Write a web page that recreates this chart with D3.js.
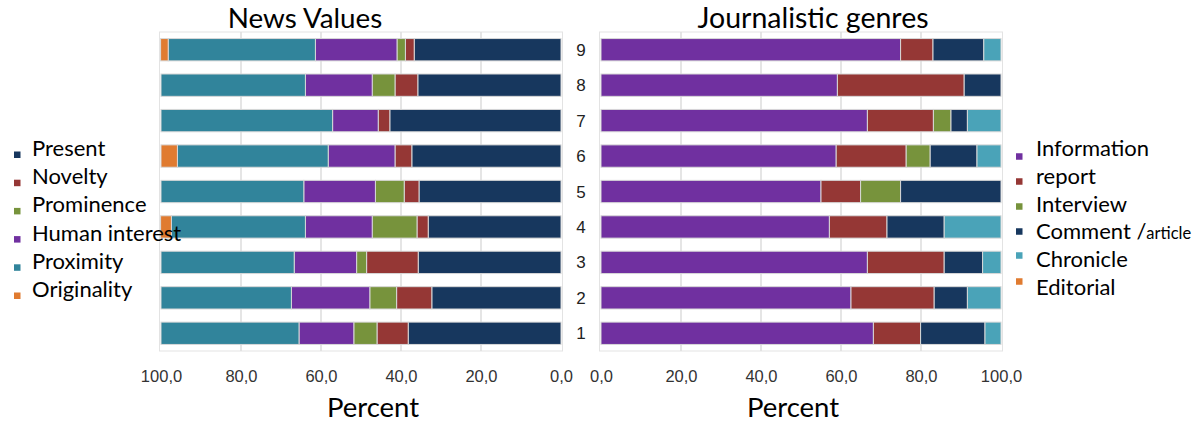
<!DOCTYPE html>
<html>
<head>
<meta charset="utf-8">
<script src="https://cdn.jsdelivr.net/npm/d3@7"></script>
<style>
  html, body { margin: 0; padding: 0; background: #fff; }
  svg { display: block; }
</style>
</head>
<body>
<svg id="chart" width="1204" height="423"></svg>
<script>
// ---------- DATA ----------
const categories = ["9", "8", "7", "6", "5", "4", "3", "2", "1"];

// News Values (percent), order stacked from 0 outward
const newsSeries = ["Present", "Novelty", "Prominence", "Human interest", "Proximity", "Originality"];
const present       = [36.7, 35.8, 42.8, 37.3, 35.5, 33.2, 35.7, 32.3, 38.2];
const novelty       = [2.2, 5.7, 2.9, 4.2, 3.7, 2.8, 12.9, 8.8, 7.8];
const prominence    = [2.1, 5.7, 0.0, 0.0, 7.2, 11.2, 2.5, 6.7, 5.8];
const humanInterest = [20.4, 16.7, 11.4, 16.7, 17.9, 16.7, 15.6, 19.6, 13.7];
const proximity     = [36.8, 36.1, 42.9, 37.7, 35.7, 33.5, 33.3, 32.6, 34.5];
const originality   = [1.9, 0.0, 0.0, 4.1, 0.0, 2.7, 0.0, 0.0, 0.0];
const newsColors = ["#17375E", "#953735", "#77933C", "#7030A0", "#31849B", "#E07B30"];

// Journalistic genres (percent), order stacked from 0 outward
const genreSeries = ["Information", "report", "Interview", "Comment /article", "Chronicle", "Editorial"];
const information = [74.9, 59.1, 66.6, 58.8, 55.0, 57.1, 66.6, 62.5, 68.1];
const report      = [8.1, 31.7, 16.5, 17.5, 9.9, 14.4, 19.2, 20.8, 11.8];
const interview   = [0.0, 0.0, 4.4, 6.0, 10.0, 0.0, 0.0, 0.0, 0.0];
const comment     = [12.7, 9.2, 4.1, 11.7, 25.1, 14.3, 9.6, 8.3, 16.1];
const chronicle   = [4.3, 0.0, 8.4, 6.0, 0.0, 14.2, 4.6, 8.4, 4.0];
const editorial   = [0.0, 0.0, 0.0, 0.0, 0.0, 0.0, 0.0, 0.0, 0.0];
const genreColors = ["#7030A0", "#953735", "#77933C", "#17375E", "#4AA3B8", "#E07B30"];

const tickValues = [0, 20, 40, 60, 80, 100];
const tickFormat = v => v.toFixed(1).replace(".", ",");

// ---------- DRAW ----------
const svg = d3.select("#chart");
const FONT = "Lato, 'Open Sans', sans-serif";

const newsTable = categories.map((c, i) => ({
  cat: c, Present: present[i], Novelty: novelty[i], Prominence: prominence[i],
  "Human interest": humanInterest[i], Proximity: proximity[i], Originality: originality[i]
}));
const genreTable = categories.map((c, i) => ({
  cat: c, Information: information[i], report: report[i], Interview: interview[i],
  "Comment /article": comment[i], Chronicle: chronicle[i], Editorial: editorial[i]
}));

const plotTop = 32, plotBottom = 351;
const y = d3.scaleBand().domain(categories).range([plotTop, plotBottom]).paddingInner(0.37).paddingOuter(0.185);

const xL = d3.scaleLinear().domain([100, 0]).range([161, 561]);
const xR = d3.scaleLinear().domain([0, 100]).range([601, 1001]);

function panel(x, table, keys, colors, title, titleX, titleSize, percentX) {
  const g = svg.append("g");
  g.append("rect")
    .attr("x", Math.min(x.range()[0], x.range()[1]) - 1.5)
    .attr("y", plotTop)
    .attr("width", Math.abs(x.range()[1] - x.range()[0]) + 3)
    .attr("height", plotBottom - plotTop)
    .attr("fill", "none").attr("stroke", "#e3e3e3").attr("stroke-width", 1);
  g.selectAll("line.grid").data([20, 40, 60, 80]).join("line")
    .attr("class", "grid")
    .attr("x1", d => x(d)).attr("x2", d => x(d))
    .attr("y1", plotTop).attr("y2", plotBottom)
    .attr("stroke", "#dcdcdc").attr("stroke-width", 1.5);

  const stack = d3.stack().keys(keys)(table);
  stack.forEach((layer, li) => {
    g.append("g").selectAll("rect").data(layer).join("rect")
      .attr("x", d => Math.min(x(d[0]), x(d[1])))
      .attr("width", d => Math.abs(x(d[1]) - x(d[0])))
      .attr("y", d => y(d.data.cat))
      .attr("height", y.bandwidth())
      .attr("fill", colors[li])
      .attr("stroke", d => (d[1] - d[0]) > 0 ? "#d8d8d8" : "none")
      .attr("stroke-width", 1);
  });

  const axis = d3.axisBottom(x).tickValues(tickValues).tickFormat(tickFormat).tickSize(0).tickPadding(0);
  const ag = g.append("g").attr("transform", `translate(0,${370})`).call(axis);
  ag.select(".domain").remove();
  ag.selectAll("text")
    .attr("font-family", "Liberation Sans, Arial, sans-serif")
    .attr("font-size", 16.5).attr("fill", "#333");

  svg.append("text").attr("x", titleX).attr("y", 28)
    .attr("text-anchor", "middle")
    .attr("font-family", FONT)
    .attr("font-size", titleSize).attr("fill", "#000").text(title);

  svg.append("text").attr("x", percentX).attr("y", 417)
    .attr("text-anchor", "middle")
    .attr("font-family", FONT)
    .attr("font-size", 27.5).attr("fill", "#000").text("Percent");
}

panel(xL, newsTable, newsSeries, newsColors, "News Values", 305, 27.8, 373);
panel(xR, genreTable, genreSeries, genreColors, "Journalistic genres", 813, 28.5, 793);

svg.append("g").selectAll("text").data(categories).join("text")
  .attr("x", 581).attr("y", d => y(d) + y.bandwidth() / 2 + 6)
  .attr("text-anchor", "middle")
  .attr("font-family", "Liberation Sans, Arial, sans-serif")
  .attr("font-size", 17).attr("fill", "#222").text(d => d);

const legL = svg.append("g");
newsSeries.forEach((s, i) => {
  const by = 156 + i * 28.2;
  legL.append("rect").attr("x", 14).attr("y", by - 4.5).attr("width", 6.5).attr("height", 6.5).attr("fill", newsColors[i]);
  legL.append("text").attr("x", 32).attr("y", by)
    .attr("font-family", FONT).attr("font-size", 22).attr("fill", "#000").text(s);
});

const legR = svg.append("g");
const markerYR = [156.5, 181.5, 206.5, 231.5, 255.5, 281.5];
genreSeries.forEach((s, i) => {
  const by = 156 + i * 27.8;
  legR.append("rect").attr("x", 1016).attr("y", markerYR[i] - 3.25).attr("width", 6.5).attr("height", 6.5).attr("fill", genreColors[i]);
  const t = legR.append("text").attr("x", 1036).attr("y", by)
    .attr("font-family", FONT).attr("font-size", 22).attr("fill", "#000");
  if (s === "Comment /article") {
    t.append("tspan").text("Comment /");
    t.append("tspan").attr("font-size", 16.5).text("article");
  } else {
    t.text(s);
  }
});
</script>
</body>
</html>
